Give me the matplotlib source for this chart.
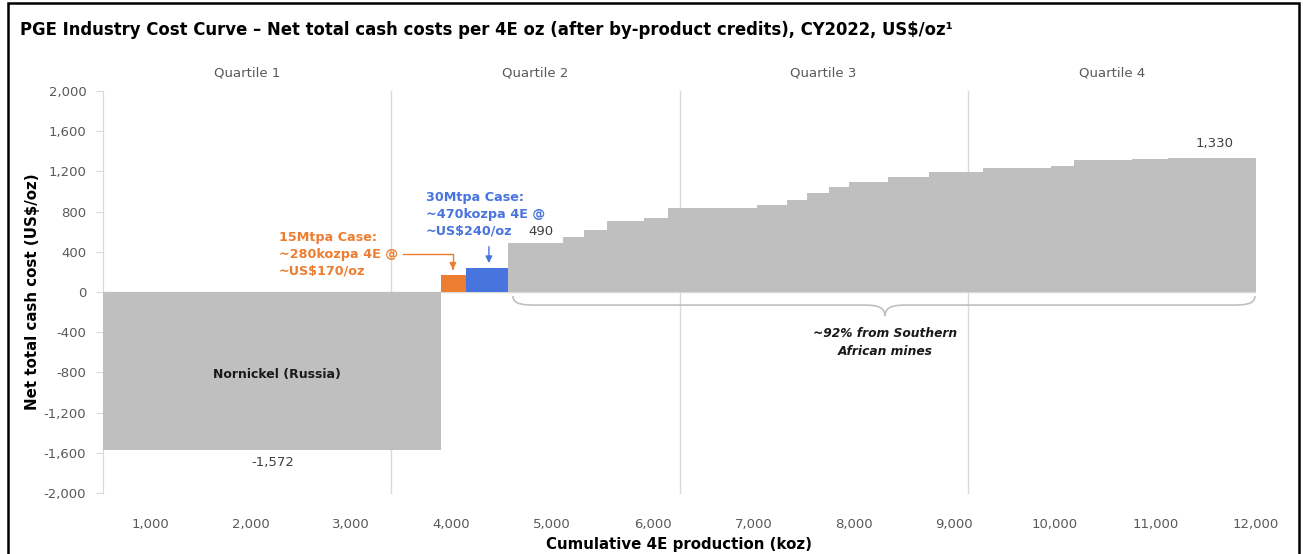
import matplotlib
matplotlib.use("Agg")
import matplotlib.pyplot as plt
from matplotlib.patches import Rectangle, PathPatch
from matplotlib.path import Path
import numpy as np

plt.rcParams['font.family'] = ['DejaVu Sans']

# ---- data ----
start_koz = 533
mine_names = ["Nornickel (Russia)", "15Mtpa Case", "30Mtpa Case"] + [f"Mine {i}" for i in range(1, 19)]
production_koz = [3358, 250, 423, 541, 215, 223, 371, 236, 891, 298, 199, 219,
                  196, 391, 404, 541, 670, 232, 573, 364, 872]
net_cost = [-1572, 170, 240, 490, 543, 613, 709, 736, 839, 866, 918, 985,
            1040, 1094, 1140, 1194, 1234, 1250, 1313, 1326, 1330]
bar_kind = ["peer", "case15", "case30"] + ["peer"] * 18
quartile_labels = ["Quartile 1", "Quartile 2", "Quartile 3", "Quartile 4"]
case15_lines = ["15Mtpa Case:", "~280kozpa 4E @", "~US$170/oz"]
case30_lines = ["30Mtpa Case:", "~470kozpa 4E @", "~US$240/oz"]
x_ticks = list(range(1000, 13000, 1000))
y_ticks = list(range(-2000, 2400, 400))

colors = {"peer": "#BFBFBF", "case15": "#ED7D31", "case30": "#4874DE"}
ORANGE = colors["case15"]
BLUE = colors["case30"]
TXT = "#595959"
GRID = "#D9D9D9"

W, H = 1303, 554
fig = plt.figure(figsize=(W / 100, H / 100), dpi=100)
ax = fig.add_axes([103 / W, 1 - 493 / H, (1256 - 103) / W, (493 - 91) / H])

lefts = start_koz + np.concatenate([[0], np.cumsum(production_koz)[:-1]])
ax.bar(lefts, net_cost, width=production_koz, align="edge",
       color=[colors[k] for k in bar_kind], linewidth=0, zorder=3)

end_koz = start_koz + sum(production_koz)
ax.set_xlim(start_koz, end_koz)
ax.set_ylim(-2000, 2000)

# quartile lines and labels
total = end_koz - start_koz
qb = [start_koz + total * k / 4 for k in range(5)]
for q in qb[1:4]:
    ax.plot([q, q], [-2000, 2000], color=GRID, lw=1, zorder=1, clip_on=False)
for i, lab in enumerate(quartile_labels):
    ax.text((qb[i] + qb[i + 1]) / 2, 2180, lab, ha="center", va="center",
            fontsize=9.5, color=TXT, clip_on=False)

ax.axhline(0, color=GRID, lw=1, zorder=2)

# axes styling
for s in ["top", "right", "bottom"]:
    ax.spines[s].set_visible(False)
ax.spines["left"].set_color(GRID)
ax.set_yticks(y_ticks)
ax.set_yticklabels([f"{v:,}" for v in y_ticks], fontsize=9.5, color=TXT)
ax.tick_params(axis="y", length=5, color=GRID, pad=7)
ax.set_xticks(x_ticks)
ax.set_xticklabels([f"{v:,}" for v in x_ticks], fontsize=9.5, color=TXT)
ax.tick_params(axis="x", length=0, pad=18)
ax.set_ylabel("Net total cash cost (US$/oz)", fontsize=10.8, fontweight="bold",
              labelpad=3)
ax.set_xlabel("Cumulative 4E production (koz)", fontsize=10.8, fontweight="bold",
              labelpad=4)

# value labels
ax.text(2223, -1700, f"{net_cost[0]:,}", ha="center", va="center", fontsize=9.5, color="#404040")
ax.text(4890, 600, f"{net_cost[3]:,}", ha="center", va="center", fontsize=9.5, color="#404040")
ax.text(11592, 1473, f"{net_cost[-1]:,}", ha="center", va="center", fontsize=9.5, color="#404040")
ax.text(2263, -816, mine_names[0], ha="center", va="center", fontsize=9,
        fontweight="bold", color="#1a1a1a", zorder=5)

# project annotations (one text per line)
for line, yv in zip(case15_lines, [547, 378, 209]):
    ax.text(2283, yv, line, ha="left", va="center",
            fontsize=9.2, fontweight="bold", color=ORANGE)
ax.plot([3520, 4013, 4013], [378, 378, 250], color=ORANGE, lw=1, zorder=4)
ax.annotate("", xy=(4013, 195), xytext=(4013, 260),
            arrowprops=dict(arrowstyle="-|>", color=ORANGE, lw=1, mutation_scale=10))
for line, yv in zip(case30_lines, [945, 776, 607]):
    ax.text(3745, yv, line, ha="left", va="center",
            fontsize=9.2, fontweight="bold", color=BLUE)
ax.annotate("", xy=(4371, 260), xytext=(4371, 479),
            arrowprops=dict(arrowstyle="-|>", color=BLUE, lw=1, mutation_scale=10))

# curly brace
x0, x1, xc = 4610, 11990, 8310
yt, ym, ytip = -40, -130, -240
dx = 120
verts = [(x0, yt), (x0, ym), (x0 + dx, ym), (x0 + 2 * dx, ym),
         (xc - 2 * dx, ym),
         (xc - dx, ym), (xc, ym), (xc, ytip),
         (xc, ym), (xc + dx, ym), (xc + 2 * dx, ym),
         (x1 - 2 * dx, ym),
         (x1 - dx, ym), (x1, ym), (x1, yt)]
codes = [Path.MOVETO, Path.CURVE4, Path.CURVE4, Path.CURVE4,
         Path.LINETO,
         Path.CURVE4, Path.CURVE4, Path.CURVE4,
         Path.CURVE4, Path.CURVE4, Path.CURVE4,
         Path.LINETO,
         Path.CURVE4, Path.CURVE4, Path.CURVE4]
ax.add_patch(PathPatch(Path(verts, codes), fill=False, edgecolor="#BFBFBF", lw=1.2, zorder=4))
ax.text(xc, -500, "~92% from Southern\nAfrican mines", ha="center", va="center",
        fontsize=8.8, fontweight="bold", fontstyle="italic", color="#1a1a1a",
        linespacing=1.5)

# title and frame
fig.text(20 / W, 1 - 30 / H,
         "PGE Industry Cost Curve \u2013 Net total cash costs per 4E oz (after by-product credits), CY2022, US$/oz\u00b9",
         ha="left", va="center", fontsize=11.9, fontweight="bold", color="#000000")
fig.patches.append(Rectangle((8 / W, -0.05), (1299 - 8) / W, 1.05 - 3 / H,
                             transform=fig.transFigure, fill=False,
                             edgecolor="black", lw=1.8))

fig.savefig("out.png", dpi=100)
